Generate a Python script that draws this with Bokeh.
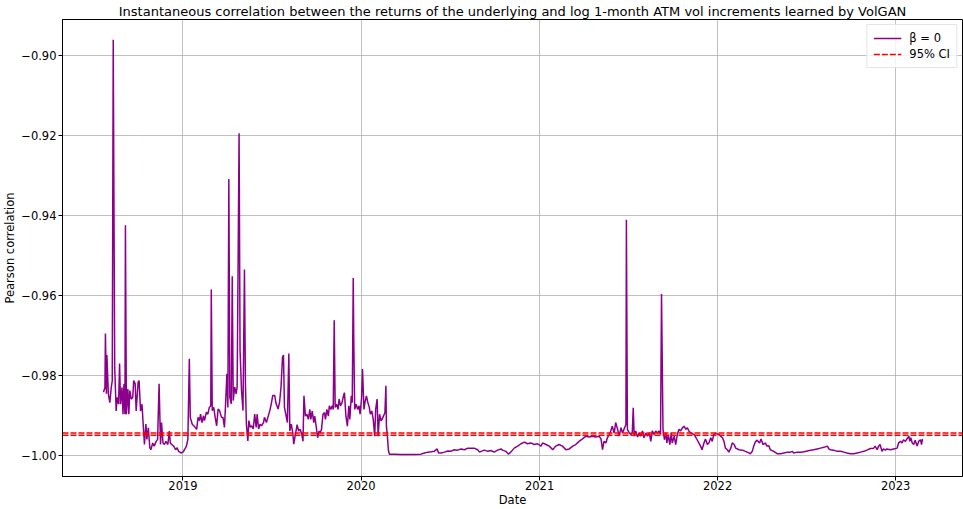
import pandas as pd
from datetime import datetime
from bokeh.plotting import figure
from bokeh.models import FixedTicker, DatetimeTickFormatter, Range1d
from bokeh.embed import file_html
from bokeh.resources import INLINE

# ---------------- data ----------------
dates_2018 = ["2018-07-22", "2018-07-25", "2018-07-26", "2018-07-28", "2018-07-29", "2018-08-01", "2018-08-04",
              "2018-08-07", "2018-08-09", "2018-08-11", "2018-08-14", "2018-08-17", "2018-08-19", "2018-08-22",
              "2018-08-24", "2018-08-26", "2018-08-29", "2018-08-31", "2018-09-02", "2018-09-04", "2018-09-05",
              "2018-09-07", "2018-09-10", "2018-09-12", "2018-09-14", "2018-09-17", "2018-09-20", "2018-09-22",
              "2018-09-25", "2018-09-27", "2018-10-01", "2018-10-03", "2018-10-06", "2018-10-09", "2018-10-11",
              "2018-10-14", "2018-10-17", "2018-10-19", "2018-10-22", "2018-10-25", "2018-10-27", "2018-10-31",
              "2018-11-03", "2018-11-07", "2018-11-10", "2018-11-13", "2018-11-16", "2018-11-18", "2018-11-21",
              "2018-11-24", "2018-11-27", "2018-12-01", "2018-12-04", "2018-12-06", "2018-12-09", "2018-12-13",
              "2018-12-17", "2018-12-20", "2018-12-23", "2018-12-28"]
corr_2018 = [-0.9842, -0.9830, -0.9695, -0.9846, -0.9749, -0.9846, -0.9868,
             -0.9830, -0.9813, -0.8960, -0.9779, -0.9889, -0.9855, -0.9872,
             -0.9770, -0.9872, -0.9830, -0.9897, -0.9821, -0.9897, -0.9424,
             -0.9897, -0.9834, -0.9897, -0.9838, -0.9859, -0.9855, -0.9813,
             -0.9821, -0.9889, -0.9817, -0.9813, -0.9889, -0.9872, -0.9914,
             -0.9973, -0.9922, -0.9960, -0.9931, -0.9981, -0.9986, -0.9969,
             -0.9977, -0.9965, -0.9960, -0.9821, -0.9973, -0.9918, -0.9969,
             -0.9973, -0.9965, -0.9973, -0.9939, -0.9969, -0.9973, -0.9977,
             -0.9986, -0.9981, -0.9990, -0.9994]

dates_2019 = ["2019-01-01", "2019-01-04", "2019-01-08", "2019-01-11", "2019-01-14", "2019-01-16", "2019-01-20",
              "2019-01-24", "2019-01-29", "2019-02-01", "2019-02-04", "2019-02-06", "2019-02-09", "2019-02-12",
              "2019-02-14", "2019-02-18", "2019-02-21", "2019-02-24", "2019-02-27", "2019-02-28", "2019-03-02",
              "2019-03-05", "2019-03-08", "2019-03-11", "2019-03-14", "2019-03-17", "2019-03-21", "2019-03-24",
              "2019-03-27", "2019-03-29", "2019-04-01", "2019-04-03", "2019-04-05", "2019-04-07", "2019-04-10",
              "2019-04-12", "2019-04-14", "2019-04-17", "2019-04-20", "2019-04-22", "2019-04-24", "2019-04-26",
              "2019-04-28", "2019-05-01", "2019-05-04", "2019-05-07", "2019-05-09", "2019-05-11", "2019-05-14",
              "2019-05-16", "2019-05-19", "2019-05-22", "2019-05-25", "2019-05-28", "2019-05-31", "2019-06-02",
              "2019-06-05", "2019-06-08", "2019-06-11", "2019-06-15", "2019-06-17", "2019-06-21", "2019-06-24",
              "2019-06-28", "2019-07-01", "2019-07-04", "2019-07-08", "2019-07-11", "2019-07-15", "2019-07-18",
              "2019-07-21", "2019-07-24", "2019-07-26", "2019-07-28", "2019-08-01", "2019-08-03", "2019-08-06",
              "2019-08-08", "2019-08-11", "2019-08-14", "2019-08-16", "2019-08-20", "2019-08-23", "2019-08-26",
              "2019-08-29", "2019-09-01", "2019-09-04", "2019-09-06", "2019-09-09", "2019-09-12", "2019-09-15",
              "2019-09-18", "2019-09-20", "2019-09-23", "2019-09-26", "2019-09-28", "2019-10-01", "2019-10-04",
              "2019-10-07", "2019-10-09", "2019-10-12", "2019-10-15", "2019-10-18", "2019-10-20", "2019-10-23",
              "2019-10-26", "2019-10-28", "2019-10-31", "2019-11-03", "2019-11-05", "2019-11-07", "2019-11-09",
              "2019-11-12", "2019-11-15", "2019-11-17", "2019-11-20", "2019-11-23", "2019-11-26", "2019-11-28",
              "2019-12-01", "2019-12-04", "2019-12-07", "2019-12-09", "2019-12-12", "2019-12-14", "2019-12-16",
              "2019-12-17", "2019-12-19", "2019-12-22", "2019-12-25", "2019-12-28", "2019-12-30"]
corr_2019 = [-0.9992, -0.9986, -0.9977, -0.9960, -0.9758, -0.9906, -0.9922,
             -0.9927, -0.9935, -0.9905, -0.9913, -0.9897, -0.9918, -0.9901,
             -0.9913, -0.9892, -0.9897, -0.9880, -0.9876, -0.9585, -0.9888,
             -0.9880, -0.9905, -0.9926, -0.9884, -0.9888, -0.9905, -0.9905,
             -0.9930, -0.9880, -0.9796, -0.9880, -0.9308, -0.9855, -0.9871,
             -0.9552, -0.9863, -0.9829, -0.9846, -0.9829, -0.9518, -0.9194,
             -0.9737, -0.9838, -0.9888, -0.9535, -0.9821, -0.9922, -0.9964,
             -0.9913, -0.9930, -0.9926, -0.9934, -0.9897, -0.9930, -0.9897,
             -0.9934, -0.9922, -0.9926, -0.9918, -0.9905, -0.9918, -0.9905,
             -0.9888, -0.9871, -0.9850, -0.9850, -0.9871, -0.9884, -0.9867,
             -0.9829, -0.9754, -0.9749, -0.9880, -0.9905, -0.9918, -0.9745,
             -0.9939, -0.9922, -0.9943, -0.9972, -0.9944, -0.9923, -0.9939,
             -0.9935, -0.9944, -0.9965, -0.9851, -0.9902, -0.9897, -0.9910,
             -0.9885, -0.9910, -0.9889, -0.9918, -0.9902, -0.9927, -0.9956,
             -0.9939, -0.9944, -0.9935, -0.9897, -0.9893, -0.9910, -0.9885,
             -0.9902, -0.9876, -0.9885, -0.9876, -0.9885, -0.9662, -0.9880,
             -0.9872, -0.9885, -0.9859, -0.9876, -0.9868, -0.9851, -0.9843,
             -0.9902, -0.9927, -0.9876, -0.9910, -0.9851, -0.9868, -0.9556,
             -0.9699, -0.9885, -0.9872, -0.9885, -0.9876, -0.9897]

dates_2020 = ["2020-01-02", "2020-01-04", "2020-01-07", "2020-01-09", "2020-01-12", "2020-01-15", "2020-01-18",
              "2020-01-20", "2020-01-23", "2020-01-26", "2020-01-29", "2020-01-31", "2020-02-03", "2020-02-05",
              "2020-02-08", "2020-02-11", "2020-02-13", "2020-02-16", "2020-02-19", "2020-02-21", "2020-02-22",
              "2020-02-24", "2020-02-26", "2020-02-28", "2020-03-10", "2020-03-23", "2020-04-06", "2020-04-19",
              "2020-05-03", "2020-05-10", "2020-05-17", "2020-05-24", "2020-05-30", "2020-06-05", "2020-06-08",
              "2020-06-13", "2020-06-20", "2020-06-27", "2020-07-03", "2020-07-10", "2020-07-17", "2020-07-24",
              "2020-07-31", "2020-08-07", "2020-08-13", "2020-08-20", "2020-08-27", "2020-08-31", "2020-09-03",
              "2020-09-10", "2020-09-17", "2020-09-23", "2020-09-30", "2020-10-07", "2020-10-14", "2020-10-17",
              "2020-10-24", "2020-10-29", "2020-11-03", "2020-11-10", "2020-11-17", "2020-11-24", "2020-12-01",
              "2020-12-07", "2020-12-14", "2020-12-21", "2020-12-28"]
corr_2020 = [-0.9859, -0.9784, -0.9885, -0.9868, -0.9851, -0.9868, -0.9880,
             -0.9897, -0.9889, -0.9910, -0.9952, -0.9885, -0.9859, -0.9952,
             -0.9897, -0.9914, -0.9910, -0.9902, -0.9893, -0.9826, -0.9927,
             -0.9952, -0.9986, -0.9997, -0.9997, -0.9998, -0.9998, -0.9998,
             -0.9997, -0.9994, -0.9992, -0.9991, -0.9990, -0.9984, -0.9994,
             -0.9994, -0.9992, -0.9989, -0.9990, -0.9986, -0.9987, -0.9984,
             -0.9986, -0.9982, -0.9982, -0.9982, -0.9986, -0.9992, -0.9990,
             -0.9987, -0.9990, -0.9988, -0.9992, -0.9987, -0.9984, -0.9987,
             -0.9990, -0.9997, -0.9992, -0.9982, -0.9977, -0.9971, -0.9967,
             -0.9971, -0.9969, -0.9973, -0.9971]

dates_2021 = ["2021-01-04", "2021-01-07", "2021-01-14", "2021-01-21", "2021-01-28", "2021-02-03", "2021-02-10",
              "2021-02-17", "2021-02-24", "2021-03-03", "2021-03-10", "2021-03-16", "2021-03-23", "2021-03-30",
              "2021-04-06", "2021-04-13", "2021-04-19", "2021-04-26", "2021-05-03", "2021-05-07", "2021-05-10",
              "2021-05-13", "2021-05-17", "2021-05-20", "2021-05-24", "2021-05-27", "2021-05-30", "2021-06-03",
              "2021-06-06", "2021-06-10", "2021-06-13", "2021-06-17", "2021-06-20", "2021-06-23", "2021-06-27",
              "2021-06-28", "2021-06-30", "2021-07-04", "2021-07-07", "2021-07-10", "2021-07-12", "2021-07-14",
              "2021-07-17", "2021-07-21", "2021-07-24", "2021-07-27", "2021-07-31", "2021-08-03", "2021-08-07",
              "2021-08-10", "2021-08-14", "2021-08-17", "2021-08-20", "2021-08-24", "2021-08-27", "2021-08-31",
              "2021-09-03", "2021-09-06", "2021-09-08", "2021-09-11", "2021-09-14", "2021-09-17", "2021-09-19",
              "2021-09-22", "2021-09-25", "2021-09-28", "2021-09-30", "2021-10-04", "2021-10-07", "2021-10-11",
              "2021-10-14", "2021-10-17", "2021-10-21", "2021-10-24", "2021-10-28", "2021-10-31", "2021-11-03",
              "2021-11-07", "2021-11-14", "2021-11-20", "2021-11-27", "2021-11-30", "2021-12-04", "2021-12-07",
              "2021-12-11", "2021-12-14", "2021-12-18", "2021-12-21", "2021-12-24", "2021-12-28"]
corr_2021 = [-0.9977, -0.9969, -0.9973, -0.9977, -0.9986, -0.9977, -0.9973,
             -0.9977, -0.9986, -0.9984, -0.9977, -0.9973, -0.9965, -0.9959,
             -0.9952, -0.9954, -0.9952, -0.9954, -0.9952, -0.9959, -0.9986,
             -0.9965, -0.9969, -0.9956, -0.9948, -0.9939, -0.9927, -0.9944,
             -0.9918, -0.9935, -0.9952, -0.9931, -0.9944, -0.9935, -0.9923,
             -0.9410, -0.9935, -0.9944, -0.9948, -0.9944, -0.9881, -0.9952,
             -0.9939, -0.9954, -0.9944, -0.9952, -0.9939, -0.9956, -0.9944,
             -0.9952, -0.9944, -0.9965, -0.9939, -0.9948, -0.9939, -0.9944,
             -0.9939, -0.9948, -0.9596, -0.9935, -0.9961, -0.9944, -0.9969,
             -0.9948, -0.9973, -0.9944, -0.9969, -0.9952, -0.9973, -0.9944,
             -0.9935, -0.9939, -0.9931, -0.9927, -0.9935, -0.9931, -0.9939,
             -0.9944, -0.9948, -0.9961, -0.9977, -0.9986, -0.9969, -0.9959,
             -0.9973, -0.9969, -0.9956, -0.9965, -0.9948, -0.9945]

dates_2022 = ["2022-01-04", "2022-01-07", "2022-01-11", "2022-01-14", "2022-01-17", "2022-01-21", "2022-01-24",
              "2022-01-28", "2022-01-31", "2022-02-04", "2022-02-07", "2022-02-14", "2022-02-21", "2022-02-27",
              "2022-03-06", "2022-03-09", "2022-03-13", "2022-03-16", "2022-03-19", "2022-03-23", "2022-03-28",
              "2022-03-31", "2022-04-04", "2022-04-09", "2022-04-12", "2022-04-16", "2022-04-19", "2022-04-26",
              "2022-05-03", "2022-05-10", "2022-05-17", "2022-05-24", "2022-05-30", "2022-06-03", "2022-06-06",
              "2022-06-13", "2022-06-20", "2022-06-27", "2022-07-04", "2022-07-11", "2022-07-17", "2022-07-24",
              "2022-07-31", "2022-08-07", "2022-08-14", "2022-08-17", "2022-08-20", "2022-08-27", "2022-09-03",
              "2022-09-10", "2022-09-17", "2022-09-23", "2022-09-30", "2022-10-07", "2022-10-14", "2022-10-21",
              "2022-10-28", "2022-11-03", "2022-11-10", "2022-11-17", "2022-11-20", "2022-11-24", "2022-11-27",
              "2022-11-30", "2022-12-04", "2022-12-07", "2022-12-11", "2022-12-14", "2022-12-21", "2022-12-28"]
corr_2022 = [-0.9948, -0.9952, -0.9956, -0.9965, -0.9982, -0.9986, -0.9992,
             -0.9982, -0.9969, -0.9973, -0.9982, -0.9986, -0.9987, -0.9990,
             -0.9994, -0.9996, -0.9990, -0.9977, -0.9967, -0.9962, -0.9969,
             -0.9959, -0.9973, -0.9969, -0.9977, -0.9976, -0.9986, -0.9990,
             -0.9996, -0.9996, -0.9994, -0.9992, -0.9992, -0.9990, -0.9994,
             -0.9992, -0.9992, -0.9991, -0.9989, -0.9987, -0.9986, -0.9984,
             -0.9982, -0.9980, -0.9977, -0.9984, -0.9986, -0.9987, -0.9990,
             -0.9990, -0.9992, -0.9994, -0.9996, -0.9996, -0.9994, -0.9992,
             -0.9990, -0.9987, -0.9983, -0.9982, -0.9977, -0.9986, -0.9977,
             -0.9973, -0.9990, -0.9984, -0.9987, -0.9984, -0.9986, -0.9984]

dates_2023 = ["2023-01-04", "2023-01-07", "2023-01-11", "2023-01-14", "2023-01-17", "2023-01-21", "2023-01-24",
              "2023-01-28", "2023-01-30", "2023-02-01", "2023-02-04", "2023-02-07", "2023-02-10", "2023-02-14",
              "2023-02-17", "2023-02-21", "2023-02-23", "2023-02-25"]
corr_2023 = [-0.9982, -0.9969, -0.9965, -0.9969, -0.9961, -0.9965, -0.9959,
             -0.9952, -0.9965, -0.9956, -0.9969, -0.9973, -0.9962, -0.9977,
             -0.9965, -0.9961, -0.9973, -0.9959]

ci_levels = [-0.9944, -0.9950]

x_tick_dates = ["2019-01-01", "2020-01-01", "2021-01-01", "2022-01-01", "2023-01-01"]
y_ticks = [-1.00, -0.98, -0.96, -0.94, -0.92, -0.90]
y_tick_labels = ["\u22121.00", "\u22120.98", "\u22120.96", "\u22120.94", "\u22120.92", "\u22120.90"]

title_text = ("Instantaneous correlation between the returns of the underlying and "
              "log 1-month ATM vol increments learned by VolGAN")

# ---------------- build ----------------
all_dates = pd.to_datetime(dates_2018 + dates_2019 + dates_2020 + dates_2021 + dates_2022 + dates_2023)
all_corr = corr_2018 + corr_2019 + corr_2020 + corr_2021 + corr_2022 + corr_2023

FONT = "DejaVu Sans"
x_start, x_end = datetime(2018, 4, 29), datetime(2023, 5, 18)

p = figure(width=963, height=509, x_axis_type="datetime", output_backend="svg",
           toolbar_location=None, title=title_text,
           x_range=Range1d(x_start, x_end),
           y_range=Range1d(-1.0053, -0.8909),
           min_border_left=10, min_border_right=1, min_border_top=1, min_border_bottom=1)

p.title.text_font = FONT
p.title.text_font_size = "13px"
p.title.text_font_style = "normal"
p.title.text_color = "black"
p.title.align = "center"
p.title.standoff = 2

p.line(all_dates, all_corr, line_color="#8B008B", line_width=1.5, legend_label="\u03b2 = 0")

for i, lvl in enumerate(ci_levels):
    kw = dict(legend_label="95% CI") if i == 0 else {}
    p.line(x=[x_start, x_end], y=[lvl, lvl], line_color="red", line_width=1.5,
           line_dash="6 2", **kw)

# axes
tick_ms = [int(pd.Timestamp(d).value // 10**6) for d in x_tick_dates]
p.xaxis.ticker = FixedTicker(ticks=tick_ms)
p.xaxis.formatter = DatetimeTickFormatter(years="%Y", months="%Y", days="%Y", hours="%Y",
                                          minutes="%Y", seconds="%Y", milliseconds="%Y",
                                          microseconds="%Y", hourmin="%Y", minsec="%Y")
p.yaxis.ticker = FixedTicker(ticks=y_ticks)
p.yaxis.major_label_overrides = {t: lab for t, lab in zip(y_ticks, y_tick_labels)}

p.xaxis.axis_label = "Date"
p.yaxis.axis_label = "Pearson correlation"
for ax in (p.xaxis[0], p.yaxis[0]):
    ax.axis_label_text_font = FONT
    ax.axis_label_text_font_size = "11.5px"
    ax.axis_label_text_font_style = "normal"
    ax.axis_label_text_color = "black"
    ax.major_label_text_font = FONT
    ax.major_label_text_font_size = "11.5px"
    ax.major_label_text_color = "black"
    ax.major_tick_out = 4
    ax.major_tick_in = 0
    ax.minor_tick_out = 0
    ax.minor_tick_in = 0
    ax.axis_line_color = "black"
    ax.major_tick_line_color = "black"

p.xaxis.major_label_standoff = 0
p.xaxis.axis_label_standoff = 0
p.yaxis.major_label_standoff = 2
p.yaxis.axis_label_standoff = 1

p.outline_line_color = "black"
p.outline_line_width = 1
p.xgrid.grid_line_color = "#b0b0b0"
p.ygrid.grid_line_color = "#b0b0b0"
p.xgrid.grid_line_width = 0.8
p.ygrid.grid_line_width = 0.8

lg = p.legend[0]
lg.location = "top_right"
lg.label_text_font = FONT
lg.label_text_font_size = "11.5px"
lg.label_text_color = "black"
lg.glyph_width = 28
lg.glyph_height = 12
lg.label_standoff = 8
lg.spacing = 2
lg.padding = 6
lg.margin = 5
lg.border_line_color = "#cccccc"
lg.background_fill_alpha = 0.8

open("out.html", "w").write(file_html(p, INLINE))
